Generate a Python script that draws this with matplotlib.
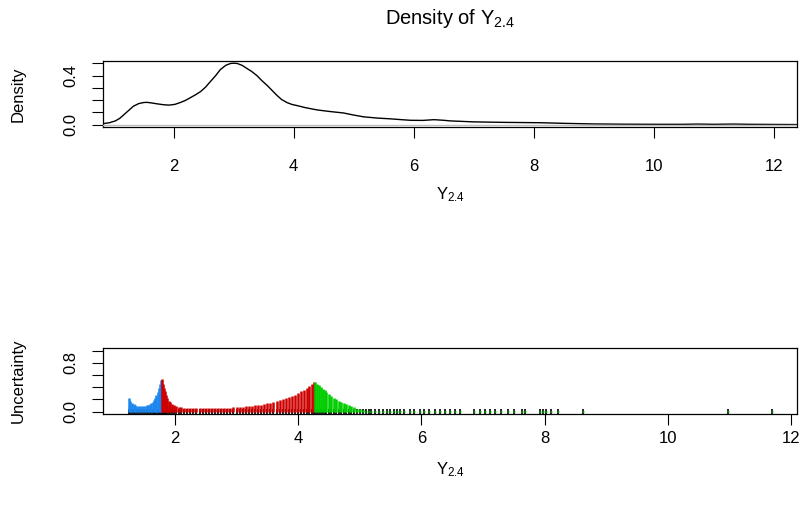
import numpy as np
import matplotlib
matplotlib.use("Agg")
import matplotlib.pyplot as plt

plt.rcParams['font.family'] = ['Liberation Sans', 'DejaVu Sans']
plt.rcParams['mathtext.fontset'] = 'custom'
plt.rcParams['mathtext.rm'] = 'Liberation Sans'

# density curve of Y2.4
dens_x = [0.83, 0.93, 1.03, 1.10, 1.17, 1.25, 1.33, 1.42, 1.50, 1.55, 1.62, 1.72,
          1.82, 1.92, 2.02, 2.11, 2.20, 2.28, 2.37, 2.45, 2.53, 2.61, 2.70, 2.78,
          2.87, 2.95, 3.00, 3.06, 3.14, 3.22, 3.30, 3.39, 3.47, 3.56, 3.64, 3.72,
          3.80, 3.89, 3.97, 4.06, 4.20, 4.39, 4.60, 4.83, 5.00, 5.17, 5.40, 5.61,
          5.80, 5.95, 6.15, 6.34, 6.50, 6.61, 7.00, 7.50, 8.12, 8.50, 9.00, 9.50,
          10.00, 10.50, 10.73, 11.00, 11.33, 11.60, 12.00, 12.39]
dens_y = [0.008, 0.015, 0.03, 0.05, 0.08, 0.115, 0.15, 0.172, 0.18, 0.182, 0.178, 0.17,
          0.163, 0.159, 0.165, 0.18, 0.198, 0.22, 0.245, 0.27, 0.305, 0.35, 0.40, 0.45,
          0.485, 0.50, 0.502, 0.50, 0.485, 0.46, 0.435, 0.40, 0.36, 0.32, 0.28, 0.24,
          0.205, 0.18, 0.165, 0.155, 0.138, 0.12, 0.107, 0.095, 0.078, 0.063, 0.053, 0.047,
          0.04, 0.035, 0.034, 0.04, 0.035, 0.03, 0.022, 0.018, 0.015, 0.01, 0.005, 0.003,
          0.002, 0.002, 0.004, 0.002, 0.004, 0.002, 0.001, 0.0]

# data points with classification uncertainty, one list per cluster
blue_x = [1.255, 1.27, 1.30, 1.33, 1.36, 1.39, 1.42, 1.45, 1.48, 1.51, 1.54, 1.57,
          1.60, 1.62, 1.64, 1.66, 1.68, 1.70, 1.72, 1.74, 1.76, 1.775]
blue_u = [0.22, 0.17, 0.14, 0.12, 0.105, 0.095, 0.09, 0.088, 0.09, 0.093, 0.10, 0.11,
          0.125, 0.14, 0.16, 0.19, 0.22, 0.27, 0.32, 0.38, 0.45, 0.52]
red_x = [1.785, 1.80, 1.82, 1.84, 1.86, 1.88, 1.90, 1.92, 1.95, 1.98, 2.02, 2.06,
         2.10, 2.15, 2.20, 2.25, 2.30, 2.35, 2.40, 2.45, 2.50, 2.55, 2.60, 2.65,
         2.70, 2.75, 2.80, 2.85, 2.90, 2.95, 3.00, 3.05, 3.10, 3.15, 3.20, 3.25,
         3.30, 3.35, 3.40, 3.45, 3.50, 3.55, 3.60, 3.65, 3.70, 3.75, 3.80, 3.85,
         3.90, 3.95, 4.00, 4.05, 4.10, 4.14, 4.18, 4.22, 4.26]
red_u = [0.53, 0.46, 0.39, 0.33, 0.27, 0.22, 0.18, 0.15, 0.12, 0.10, 0.085, 0.075,
         0.07, 0.066, 0.063, 0.061, 0.059, 0.058, 0.057, 0.056, 0.056, 0.056, 0.056, 0.057,
         0.058, 0.059, 0.061, 0.063, 0.065, 0.068, 0.071, 0.074, 0.078, 0.083, 0.088, 0.094,
         0.10, 0.107, 0.115, 0.124, 0.134, 0.145, 0.157, 0.17, 0.185, 0.20, 0.218, 0.237,
         0.258, 0.28, 0.305, 0.33, 0.36, 0.39, 0.42, 0.45, 0.485]
green_x = [4.28, 4.31, 4.34, 4.37, 4.40, 4.43, 4.46, 4.50, 4.54, 4.58, 4.62, 4.66,
           4.70, 4.74, 4.78, 4.82, 4.86, 4.90, 4.95, 5.00, 5.05, 5.10,
           5.15, 5.19, 5.25, 5.32, 5.38, 5.45, 5.49, 5.55, 5.60, 5.65, 5.72, 5.81,
           5.88, 5.97, 6.05, 6.13, 6.22, 6.30, 6.38, 6.46, 6.54, 6.62, 6.86, 6.95,
           7.03, 7.11, 7.19, 7.30, 7.40, 7.51, 7.63, 7.68, 7.92, 7.97, 8.03, 8.11,
           8.21, 8.62, 10.98, 11.683]
green_u = [0.49, 0.46, 0.43, 0.40, 0.375, 0.35, 0.32, 0.29, 0.26, 0.23, 0.20, 0.18,
           0.16, 0.14, 0.12, 0.10, 0.085, 0.07, 0.05, 0.035, 0.02, 0.012,
           0.01, 0.01, 0.008, 0.008, 0.008, 0.008, 0.008, 0.008, 0.008, 0.008, 0.008, 0.008,
           0.008, 0.008, 0.008, 0.008, 0.008, 0.008, 0.008, 0.008, 0.008, 0.008, 0.008, 0.008,
           0.008, 0.008, 0.008, 0.008, 0.008, 0.008, 0.008, 0.008, 0.008, 0.008, 0.008, 0.008,
           0.008, 0.008, 0.008, 0.008]

ylab_sym = r"$\mathregular{Y_{2.4}}$"

fig = plt.figure(figsize=(8.03, 5.14), dpi=100)
ax1 = fig.add_axes([0.1286, 0.7529, 0.8643, 0.1284])
ax2 = fig.add_axes([0.1286, 0.1946, 0.8643, 0.1278])

fs = 12
for ax in (ax1, ax2):
    for s in ax.spines.values():
        s.set_linewidth(0.9)
    ax.tick_params(length=8, width=0.8, labelsize=fs)
    ax.tick_params(axis='y', pad=10)

# top panel: density
ax1.plot(dens_x, dens_y, color='black', lw=1.0)
ax1.axhline(0, color='#BEBEBE', lw=1.0, zorder=3)
ax1.set_xlim(0.828, 12.395)
ax1.set_ylim(-0.02, 0.52)
ax1.set_xticks([2, 4, 6, 8, 10, 12])
ax1.set_yticks([0, 0.1, 0.2, 0.3, 0.4, 0.5])
ax1.set_yticklabels(['0.0', '', '', '', '0.4', ''], rotation=90, va='center')
ax1.tick_params(axis='x', pad=15)
ax1.set_xlabel(ylab_sym, fontsize=fs, va='center')
ax1.xaxis.set_label_coords(0.5, -1.03)
ax1.set_ylabel('Density', fontsize=fs, va='center')
ax1.yaxis.set_label_coords(-0.122, 0.5)
ax1.set_title('Density of ' + ylab_sym, fontsize=14.5, pad=27)

# bottom panel: uncertainty
allx = blue_x + red_x + green_x
ax2.vlines(allx, -0.04, 0.035, color='black', lw=1.2)
ax2.vlines(blue_x, 0, blue_u, color='#1C86EE', lw=1.8)
ax2.vlines(red_x, 0, red_u, color='#CD0000', lw=1.8)
ax2.vlines(green_x, 0, green_u, color='#00CD00', lw=1.8)
ax2.set_xlim(0.838, 12.10)
ax2.set_ylim(-0.04, 1.04)
ax2.set_xticks([2, 4, 6, 8, 10, 12])
ax2.set_yticks([0, 0.2, 0.4, 0.6, 0.8, 1.0])
ax2.set_yticklabels(['0.0', '', '', '', '0.8', ''], rotation=90, va='center')
ax2.tick_params(axis='x', pad=4)
ax2.set_xlabel(ylab_sym, fontsize=fs, va='center')
ax2.xaxis.set_label_coords(0.5, -0.85)
ax2.set_ylabel('Uncertainty', fontsize=fs, va='center')
ax2.yaxis.set_label_coords(-0.122, 0.5)

fig.savefig('out.png', dpi=100)
